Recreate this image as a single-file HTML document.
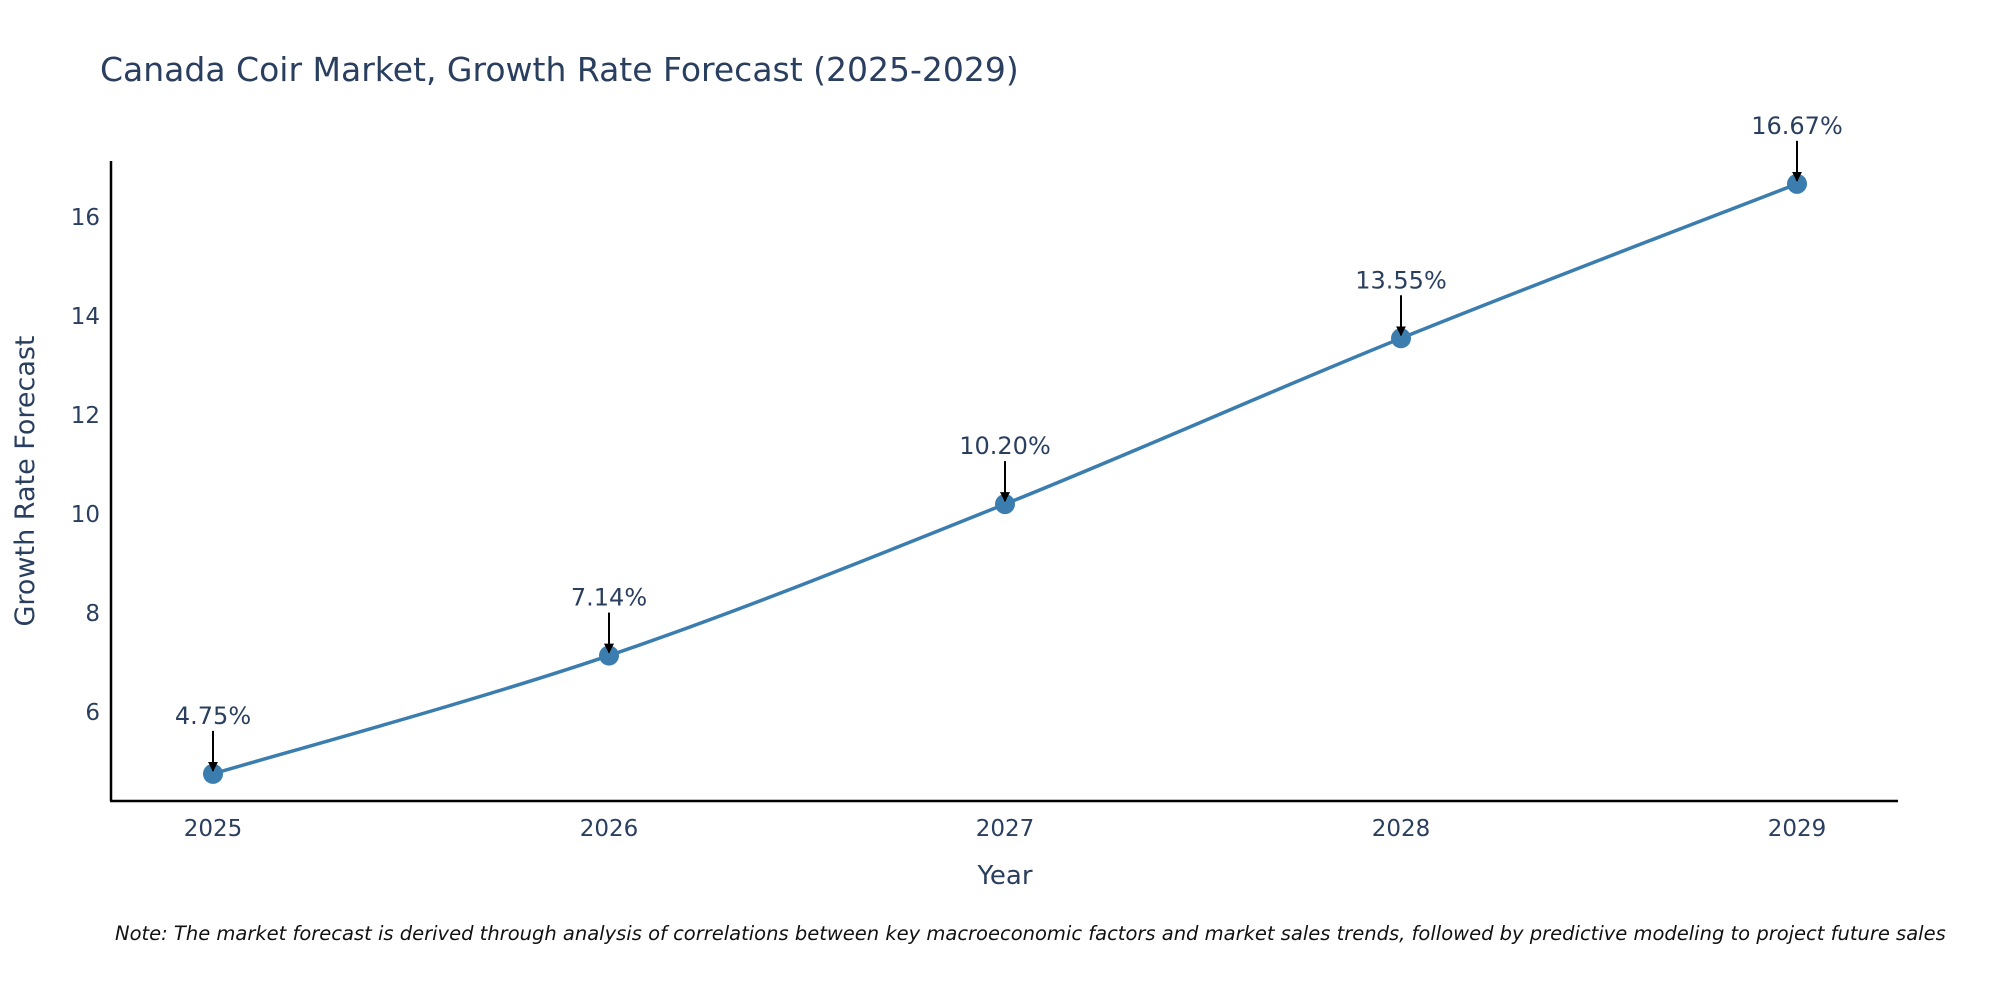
<!DOCTYPE html>
<html><head><meta charset="utf-8"><style>
body{margin:0;background:#fff;}
svg text{font-family:"DejaVu Sans","Liberation Sans",sans-serif;fill:#2a3f5f;}
</style></head><body>
<svg id="chart" width="2000" height="1000" xmlns="http://www.w3.org/2000/svg">
<defs><marker id="arr" viewBox="0 0 10 10" refX="9" refY="5" markerWidth="5" markerHeight="5" orient="auto"><path d="M0,0 L10,5 L0,10 z" fill="#000"/></marker></defs>
<text x="100" y="81" font-size="33">Canada Coir Market, Growth Rate Forecast (2025-2029)</text>
<line x1="111" y1="161" x2="111" y2="801" stroke="#000" stroke-width="2.5"/>
<line x1="110" y1="801" x2="1898" y2="801" stroke="#000" stroke-width="2.5"/>
<text transform="translate(34,481) rotate(-90)" text-anchor="middle" font-size="27">Growth Rate Forecast</text>
<text x="1005" y="884" text-anchor="middle" font-size="26">Year</text>
<text x="115" y="940" font-size="19.5" font-style="italic" style="fill:#111">Note: The market forecast is derived through analysis of correlations between key macroeconomic factors and market sales trends, followed by predictive modeling to project future sales</text>
<g id="plot"></g>
</svg>
<script>
const years=[2025,2026,2027,2028,2029];
const values=[4.75,7.14,10.20,13.55,16.67];
const labels=["4.75%","7.14%","10.20%","13.55%","16.67%"];
const yTicks=[6,8,10,12,14,16];
const NS="http://www.w3.org/2000/svg";
const g=document.getElementById('plot');
const xs=v=>213+(v-2025)*(1797-213)/4;
const ys=v=>712-(v-6)*49.5;
function mk(t,a){const e=document.createElementNS(NS,t);for(const k in a)e.setAttribute(k,a[k]);g.appendChild(e);return e;}
yTicks.forEach(t=>{const e=mk('text',{x:100,y:ys(t)+8,'text-anchor':'end','font-size':23});e.textContent=t;

});
years.forEach(t=>{const e=mk('text',{x:xs(t),y:836,'text-anchor':'middle','font-size':23});e.textContent=t;

});
const P=years.map((y,i)=>[xs(y),ys(values[i])]);
let d=`M${P[0][0]},${P[0][1]}`;
for(let i=0;i<P.length-1;i++){const p0=P[Math.max(i-1,0)],p1=P[i],p2=P[i+1],p3=P[Math.min(i+2,P.length-1)];
const c1=[p1[0]+(p2[0]-p0[0])/6,p1[1]+(p2[1]-p0[1])/6],c2=[p2[0]-(p3[0]-p1[0])/6,p2[1]-(p3[1]-p1[1])/6];
d+=` C${c1[0]},${c1[1]} ${c2[0]},${c2[1]} ${p2[0]},${p2[1]}`;}
const ln=mk('path',{d:d,fill:'none',stroke:'#3a7dae','stroke-width':3.5});


P.forEach((p,i)=>{
const c=mk('circle',{cx:p[0],cy:p[1],r:10,fill:'#3a7dae'});


const a=mk('line',{x1:p[0],y1:p[1]-43,x2:p[0],y2:p[1]-3,stroke:'#000','stroke-width':2,'marker-end':'url(#arr)'});


const t=mk('text',{x:p[0],y:p[1]-50,'text-anchor':'middle','font-size':24});t.textContent=labels[i];


});
</script>
</body></html>
